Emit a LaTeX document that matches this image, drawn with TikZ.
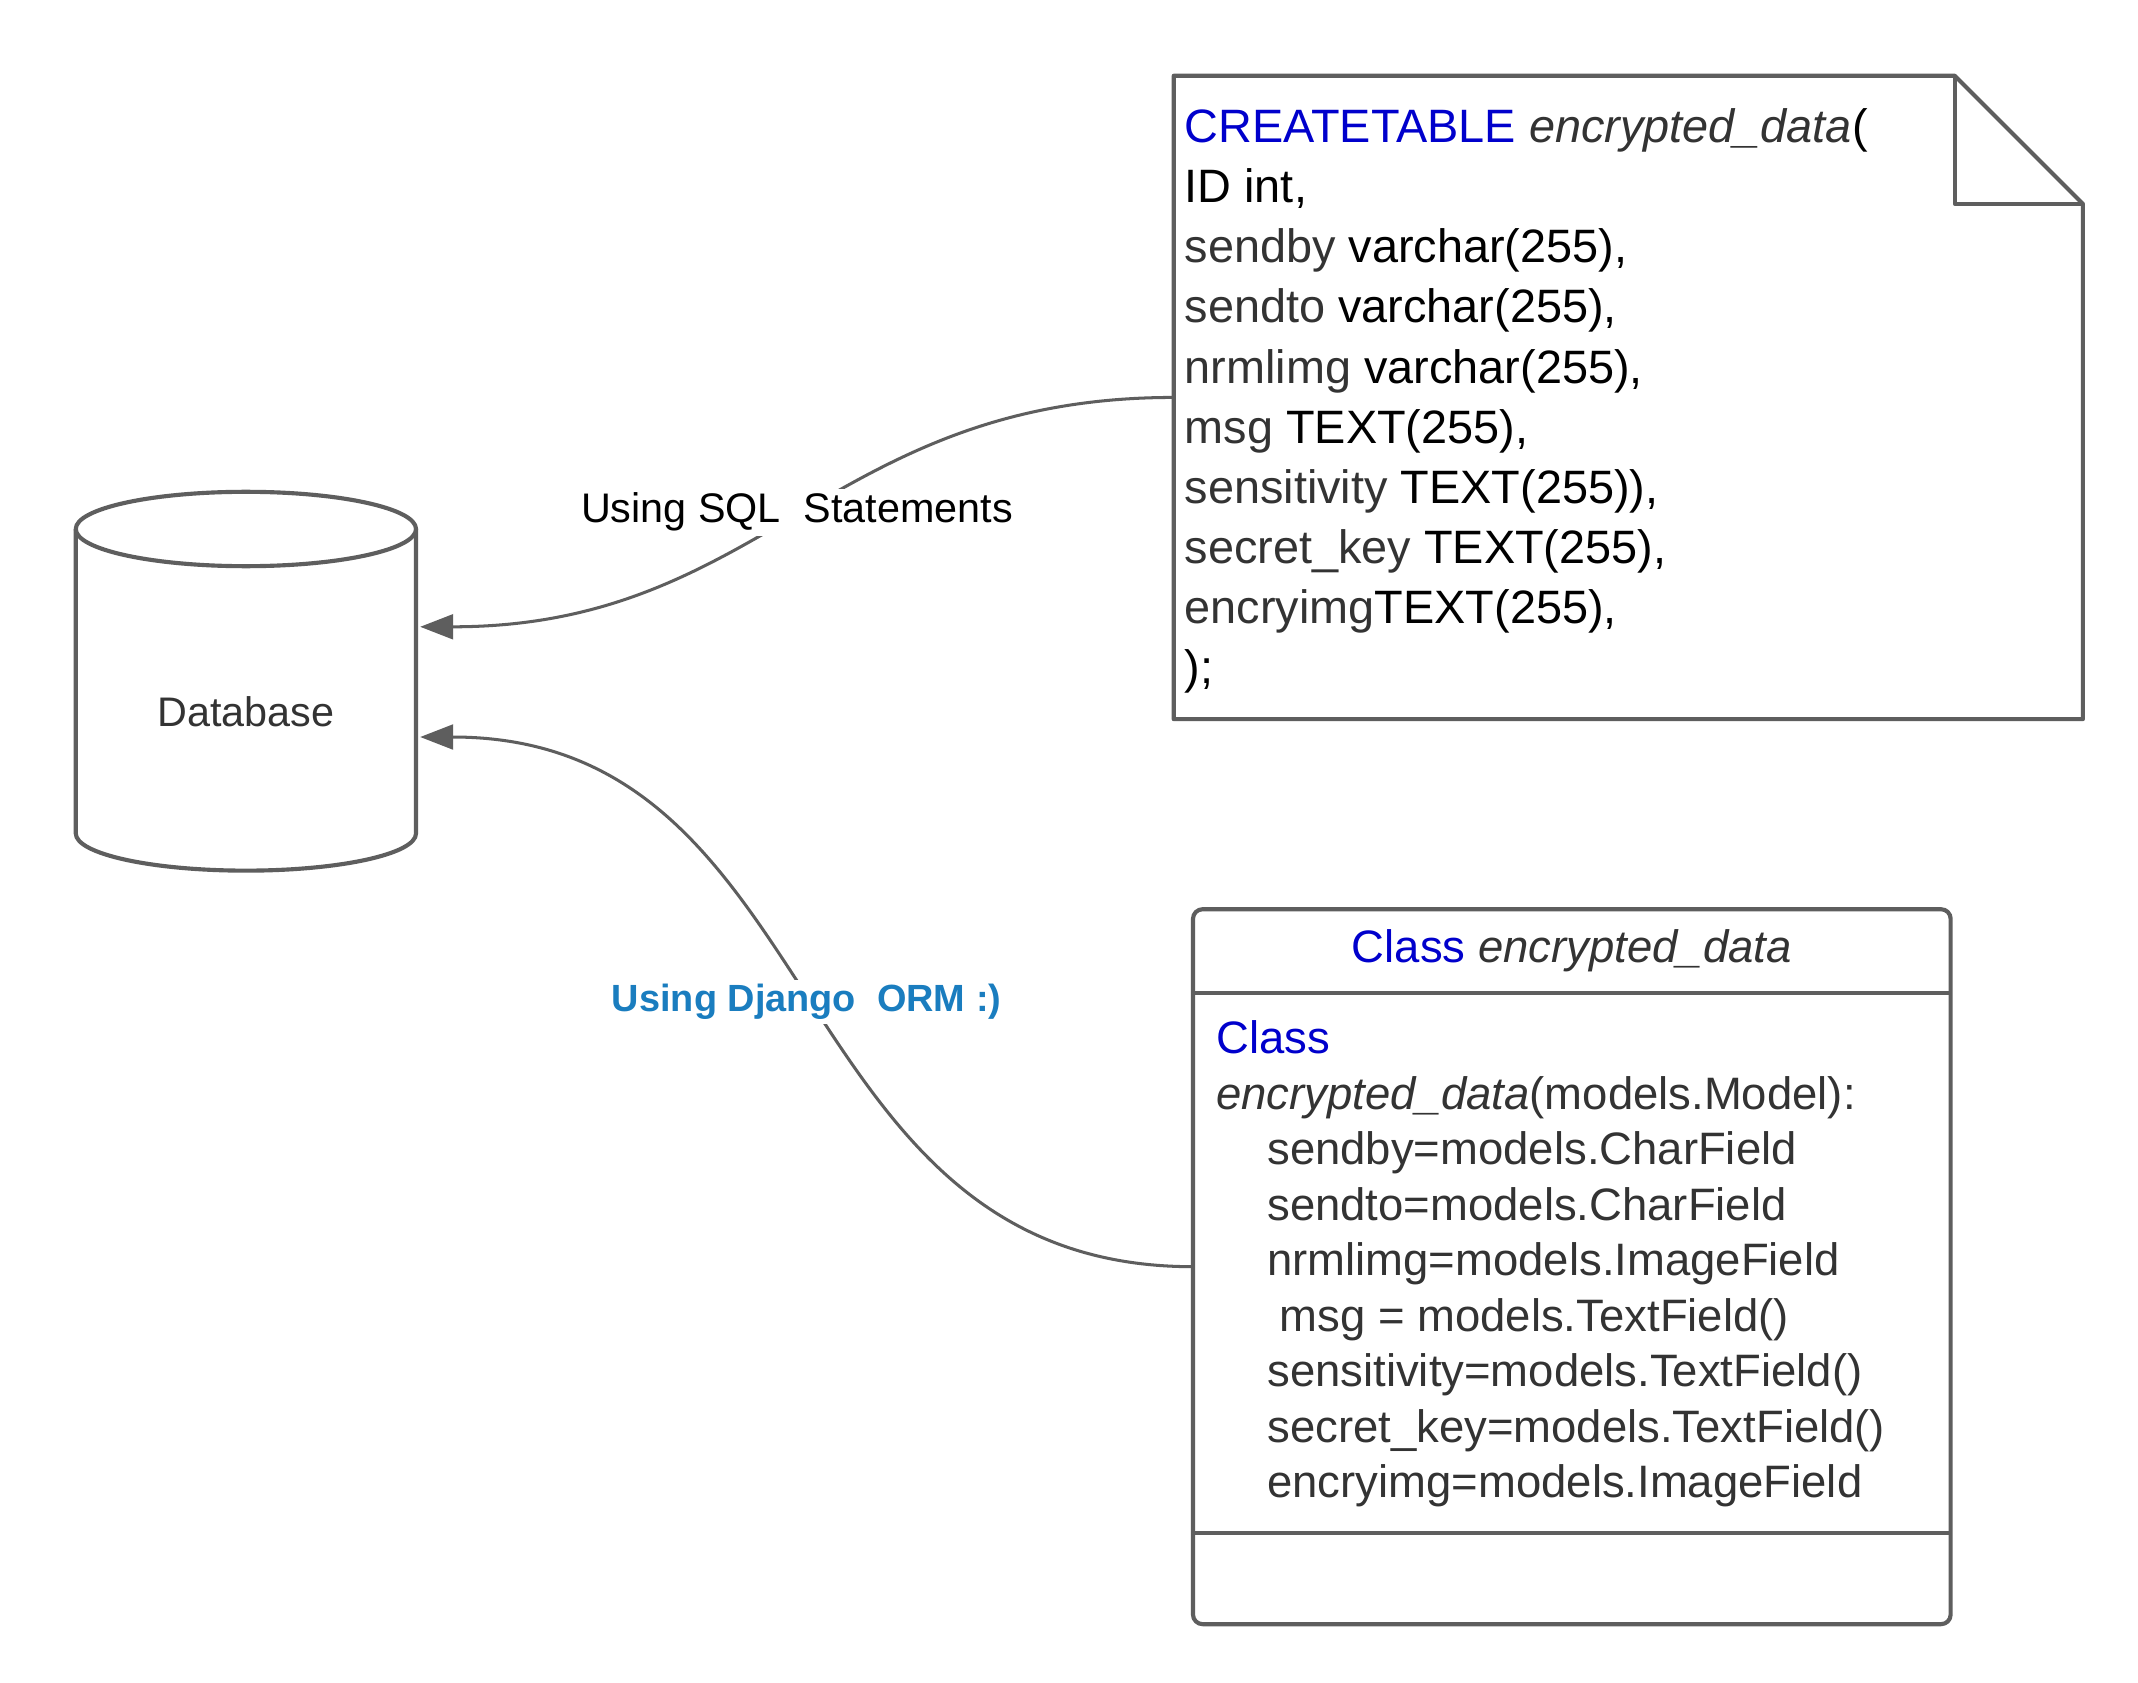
\documentclass[tikz,border=0pt]{standalone}
\usepackage{fontspec}
\setmainfont{Liberation Sans}
\usetikzlibrary{arrows.meta,calc}
\definecolor{linegray}{HTML}{5E5E5E}
\definecolor{txtgray}{HTML}{333333}
\definecolor{kwblue}{HTML}{0000CC}
\definecolor{ormblue}{HTML}{1A7DBF}
\begin{document}
\begin{tikzpicture}[x=1pt,y=-1pt,
  shapeline/.style={draw=linegray,line width=3pt,fill=white,line join=round},
  conn/.style={draw=linegray,line width=2.2pt,-{Triangle[length=24pt,width=18pt]}},
  lbl/.style={fill=white,inner sep=3pt,font=\fontsize{30}{36}\selectfont},
  box/.style={inner sep=0pt,outer sep=0pt}]
\useasboundingbox (0,0) rectangle (1552,1221);
\fill[white] (0,0) rectangle (1552,1221);

% database cylinder
\node[box,minimum width=247pt,minimum height=275pt] (db) at (178.5,494.5) {};
\draw[shapeline] (55,384) -- (55,605) arc[start angle=180,end angle=360,x radius=123.5pt,y radius=27pt] -- (302,384);
\draw[shapeline] (178.5,384) ellipse[x radius=123.5pt,y radius=27pt];
\node[font=\fontsize{30}{36}\selectfont,text=txtgray] (dblabel) at (178.5,517) {Database};

% note (SQL)
\node[box,minimum width=660pt,minimum height=467pt] (note) at (1182,288.5) {};
\draw[shapeline] (note.north west) -- ($(note.north east)+(-93,0)$) -- ($(note.north east)+(0,93)$) -- (note.south east) -- (note.south west) -- cycle;
\draw[shapeline,fill=none] ($(note.north east)+(-93,0)$) -- ($(note.north east)+(-93,93)$) -- ($(note.north east)+(0,93)$);
\node[box,anchor=north west,align=left,font=\fontsize{34}{43.6}\selectfont] (notetext) at (860,79) {%
{\color{kwblue}CREATETABLE} {\itshape\color{txtgray}encrypted\_data}(\\
ID int,\\
{\color{txtgray}sendby} varchar(255),\\
{\color{txtgray}sendto} varchar(255),\\
{\color{txtgray}nrmlimg} varchar(255),\\
{\color{txtgray}msg} TEXT(255),\\
{\color{txtgray}sensitivity} TEXT(255)),\\
{\color{txtgray}secret\_key} TEXT(255),\\
{\color{txtgray}encryimg}TEXT(255),\\
);};

% class box (ORM)
\node[box,minimum width=550pt,minimum height=519pt] (cls) at (1141,919.5) {};
\draw[shapeline,rounded corners=7pt] (cls.north west) rectangle (cls.south east);
\draw[shapeline] ($(cls.north west)+(0,61)$) -- ($(cls.north east)+(0,61)$);
\draw[shapeline] ($(cls.south west)+(0,-66)$) -- ($(cls.south east)+(0,-66)$);
\node[font=\fontsize{33}{40}\selectfont,text=txtgray] (clstitle) at (1141,690) {{\color{kwblue}Class} {\itshape encrypted\_data}};
\node[box,anchor=north west,align=left,text=txtgray,font=\fontsize{33}{40.3}\selectfont] (clsbody) at (883,741) {%
{\color{kwblue}Class}\\
{\itshape encrypted\_data}(models.Model):\\
\hspace*{37pt}sendby=models.CharField\\
\hspace*{37pt}sendto=models.CharField\\
\hspace*{37pt}nrmlimg=models.ImageField\\
\hspace*{46pt}msg = models.TextField()\\
\hspace*{37pt}sensitivity=models.TextField()\\
\hspace*{37pt}secret\_key=models.TextField()\\
\hspace*{37pt}encryimg=models.ImageField};

% connectors
\coordinate (tipsql) at (305,455);
\coordinate (tiporm) at (305,535);
\draw[conn] (note.west) .. controls +(-250,0) and +(250,0) .. (tipsql)
  node[lbl,pos=0.5,text=black] (sqllbl) {Using SQL\ \ Statements};
\draw[conn] (cls.west) .. controls +(-300,0) and +(300,0) .. (tiporm)
  node[lbl,pos=0.5,text=ormblue,font=\fontsize{27.5}{33}\selectfont\bfseries] (ormlbl) {Using Django\ \ ORM :)};
\end{tikzpicture}
\end{document}
